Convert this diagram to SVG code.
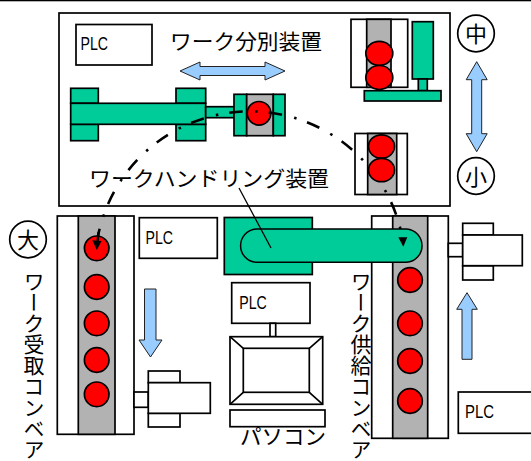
<svg xmlns="http://www.w3.org/2000/svg" width="531" height="461" viewBox="0 0 531 461">
  <style>
    .k { stroke: #000; stroke-width: 1.7; }
    .w { fill: #fff; }
    .g { fill: #00CC99; }
    .gr { fill: #B2B2B2; }
    .r { fill: #FF0000; }
    .b { fill: #99CCFF; stroke: #222; stroke-width: 1; }
    .t { font-family: "Noto Sans CJK JP", "Noto Sans CJK SC", sans-serif; font-size: 21px; fill: #000; }
    .v { writing-mode: vertical-rl; }
    .p { font-family: "Liberation Sans", Arial, sans-serif; font-size: 17.5px; fill: #000; }
    .path { fill: none; stroke: #000; stroke-width: 2.6; stroke-dasharray: 13.5 12.5 2.5 11.1; stroke-dashoffset: 6; }
  </style>

  <rect width="531" height="461" fill="#fff"/>
  <rect x="0" y="0" width="531" height="1.3" fill="#000"/>

  <!-- sorting unit frame -->
  <g id="sorter-frame">
    <rect class="k" x="59" y="13" width="391" height="193" fill="none"/>
    <text class="t" x="170" y="49" textLength="152" lengthAdjust="spacingAndGlyphs">ワーク分別装置</text>
  </g>

  <g id="plc-sorter">
    <rect class="k w" x="76" y="24.5" width="76" height="40.5"/>
    <text class="p" x="80.5" y="50" textLength="27.5" lengthAdjust="spacingAndGlyphs">PLC</text>
  </g>

  <g id="arrow-horizontal">
    <polygon class="b" points="180,71 200,62 200,66.5 265,66.5 265,62 285,71 265,80 265,75.5 200,75.5 200,80"/>
  </g>

  <!-- sorting arm with gripper -->
  <g id="sort-arm">
    <rect class="k g" x="70.7" y="88.3" width="27.6" height="15"/>
    <rect class="k g" x="70.7" y="124.3" width="27.6" height="16.4"/>
    <rect class="k g" x="176" y="88.3" width="29.7" height="15"/>
    <rect class="k g" x="176" y="124.3" width="29.7" height="16.4"/>
    <rect class="k g" x="70.7" y="103.3" width="135" height="21"/>
    <rect class="k g" x="205.7" y="106.7" width="28.3" height="11"/>
    <rect class="k g" x="234" y="94.3" width="12.7" height="41.4"/>
    <rect class="k gr" x="246.7" y="94.3" width="26.6" height="41.4"/>
    <rect class="k g" x="273.3" y="94.3" width="11.7" height="41.4"/>
    <circle class="k r" cx="259" cy="113.3" r="11.8"/>
  </g>

  <!-- upper sorting station -->
  <g id="station-large">
    <rect class="k w" x="351" y="19.3" width="56.7" height="68"/>
    <rect class="k gr" x="366.7" y="19.3" width="24.3" height="68"/>
    <ellipse class="k r" cx="379.3" cy="53.3" rx="13.5" ry="12"/>
    <ellipse class="k r" cx="379.3" cy="77.5" rx="13.5" ry="12"/>
    <rect class="k g" x="412.3" y="21.7" width="21" height="57.3"/>
    <rect class="k g" x="418.3" y="79" width="9" height="11.7"/>
    <rect class="k g" x="364.3" y="90.7" width="76.7" height="10.3"/>
  </g>

  <g id="station-small-frame">
    <rect class="k w" x="355" y="133.5" width="52.3" height="61"/>
    <rect class="k gr" x="367.7" y="133.5" width="29" height="61"/>
  </g>

  <g id="size-labels">
    <circle class="k" cx="476" cy="33.5" r="18.3" fill="#fff"/>
    <text class="t" x="476" y="41.5" text-anchor="middle" style="font-size:22px">中</text>
    <polygon class="b" points="476.7,61.7 487.2,79.7 481.7,79.7 481.7,133.7 487.2,133.7 476.7,151.7 466.2,133.7 471.7,133.7 471.7,79.7 466.2,79.7"/>
    <circle class="k" cx="476" cy="176" r="18.3" fill="#fff"/>
    <text class="t" x="476" y="184.5" text-anchor="middle" style="font-size:22px">小</text>
    <circle class="k" cx="28" cy="239.5" r="18.3" fill="#fff"/>
    <text class="t" x="28" y="247.5" text-anchor="middle" style="font-size:22px">大</text>
  </g>

  <!-- receiving conveyor (left) -->
  <g id="conveyor-receive">
    <rect class="k w" x="57.3" y="216" width="76.7" height="218.3"/>
    <rect class="k gr" x="78.3" y="216" width="36.7" height="218.3"/>
    <circle class="k r" cx="96.7" cy="248.3" r="12.3"/>
    <circle class="k r" cx="96.7" cy="287" r="12.3"/>
    <circle class="k r" cx="96.7" cy="323.3" r="12.3"/>
    <circle class="k r" cx="96.7" cy="360" r="12.3"/>
    <circle class="k r" cx="96.7" cy="394.3" r="12.3"/>
    <text class="t v" x="34" y="271">ワーク受取コンベア</text>
  </g>

  <g id="motor-receive">
    <rect class="k w" x="134" y="392" width="14.3" height="15.3"/>
    <rect class="k w" x="148.3" y="371" width="31.7" height="11.7"/>
    <rect class="k w" x="148.3" y="413.3" width="31.7" height="13.7"/>
    <rect class="k w" x="148.3" y="382.7" width="62" height="30.6"/>
  </g>

  <g id="arrow-down">
    <polygon class="b" points="144.5,289 156,289 156,340 162,340 150.5,357 139,340 144.5,340"/>
  </g>

  <g id="plc-receive">
    <rect class="k w" x="139.3" y="217.7" width="78" height="40.6"/>
    <text class="p" x="145.5" y="243.5" textLength="27.5" lengthAdjust="spacingAndGlyphs">PLC</text>
  </g>

  <!-- supply conveyor (right) -->
  <g id="conveyor-supply">
    <rect class="k w" x="371.7" y="216" width="76.6" height="222.3"/>
    <rect class="k gr" x="392.7" y="216" width="35" height="222.3"/>
    <circle class="k r" cx="410" cy="280" r="12.3"/>
    <circle class="k r" cx="410" cy="323.3" r="12.3"/>
    <circle class="k r" cx="410" cy="361" r="12.3"/>
    <circle class="k r" cx="410" cy="401" r="12.3"/>
    <text class="t v" x="361" y="271">ワーク供給コンベア</text>
  </g>

  <g id="motor-supply">
    <rect class="k w" x="448.3" y="243.3" width="14.4" height="13.4"/>
    <rect class="k w" x="462.7" y="223.3" width="30.6" height="11.7"/>
    <rect class="k w" x="462.7" y="265.7" width="30.6" height="14.3"/>
    <rect class="k w" x="462.7" y="235" width="59.6" height="30.7"/>
  </g>

  <g id="arrow-up">
    <polygon class="b" points="467,292.7 477.3,309.3 472,309.3 472,359.3 462,359.3 462,309.3 456.7,309.3"/>
  </g>

  <g id="plc-supply">
    <rect class="k w" x="458.3" y="392" width="80" height="41.3"/>
    <text class="p" x="465" y="418" textLength="29" lengthAdjust="spacingAndGlyphs">PLC</text>
  </g>

  <!-- handling unit -->
  <g id="handler">
    <rect class="k g" x="224.3" y="217.5" width="88" height="57"/>
    <path class="g" d="M256,229 H406.6 A16.7,16.7 0 0 1 406.6,262.3 H256 A16.7,16.7 0 0 1 256,229 Z" stroke="#000" stroke-width="1.5"/>
    <text class="t" x="89" y="186" textLength="240" lengthAdjust="spacingAndGlyphs">ワークハンドリング装置</text>
  </g>

  <!-- PC with its PLC -->
  <g id="plc-pc">
    <rect class="k w" x="231.7" y="282.7" width="78.3" height="40.6"/>
    <text class="p" x="239.3" y="308.5" textLength="27.5" lengthAdjust="spacingAndGlyphs">PLC</text>
  </g>

  <g id="pc">
    <rect class="k w" x="270" y="323.3" width="5.7" height="13.4"/>
    <rect class="k w" x="230" y="336.7" width="92.7" height="67.6"/>
    <rect class="k w" x="243.3" y="348.3" width="66" height="44"/>
    <path class="k" fill="none" d="M230,336.7 L243.3,348.3 M322.7,336.7 L309.3,348.3 M230,404.3 L243.3,392.3 M322.7,404.3 L309.3,392.3"/>
    <rect class="k w" x="230" y="410" width="95" height="16.7"/>
    <text class="t" x="240" y="444" textLength="86" lengthAdjust="spacingAndGlyphs">パソコン</text>
  </g>

  <!-- connectors: transfer path and leader line -->
  <g id="connectors">
    <path class="path" d="M98,236 A155,155 0 0 1 402,236"/>
    <path d="M98.6,232 L97.6,241" stroke="#000" stroke-width="2.4" fill="none"/>
    <polygon points="96.8,250 92.3,240.3 101.6,241" fill="#000"/>
    <polygon points="398.3,237.3 407.3,237.3 403.3,246.7" fill="#000"/>
    <line x1="239" y1="188" x2="271" y2="248" stroke="#000" stroke-width="1.3"/>
  </g>

  <g id="station-small-works">
    <ellipse class="k r" cx="381.5" cy="146.5" rx="13" ry="11.7"/>
    <ellipse class="k r" cx="381.5" cy="170" rx="13" ry="11.7"/>
  </g>
</svg>
